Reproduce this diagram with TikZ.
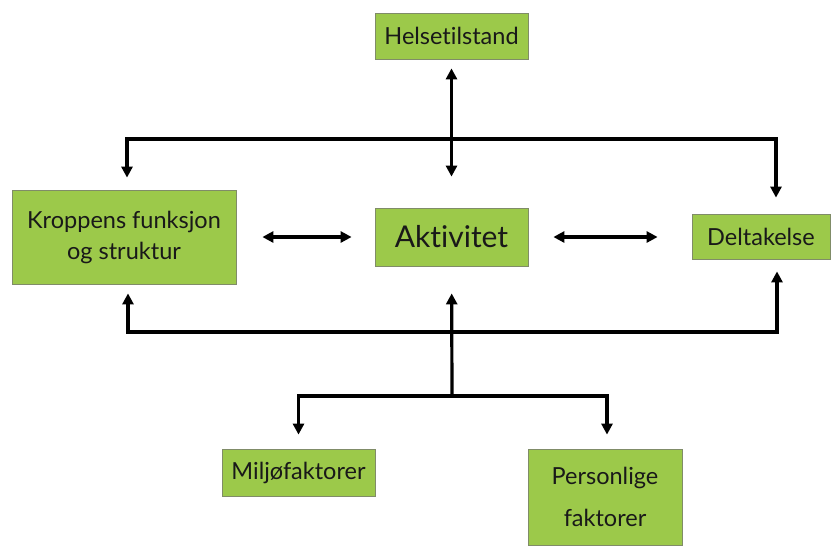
\documentclass[tikz,border=0pt]{standalone}
\usepackage{fontspec}
\setmainfont{Lato}[Ligatures=NoCommon]
\usepackage{xcolor}
\usetikzlibrary{arrows.meta}

\definecolor{boxgreen}{RGB}{156,201,74}
\definecolor{boxline}{RGB}{128,140,104}

\begin{document}
\begin{tikzpicture}[
			x=1pt, y=-1pt,
			every node/.style={fill=boxgreen, draw=boxline, line width=0.8pt, inner sep=0pt, text=black!90},
			process/.style={rectangle, align=center, font=\fontsize{23.5}{31}\selectfont},
			arrow/.style={draw, black, line width=3.2pt, -{Triangle[length=11pt,width=11pt]}},
			biarrow/.style={draw, black, line width=3.2pt, {Triangle[length=11pt,width=11pt]}-{Triangle[length=11pt,width=11pt]}}
			]
			\useasboundingbox (0,0) rectangle (833,547);
			
			% boksar
			\node (helse) [process, minimum width=153pt, minimum height=46pt] at (451.5,36) {Helsetilstand};
			\node (kropp) [process, minimum width=224pt, minimum height=94pt] at (124,237) {Kroppens funksjon\\og struktur};
			\node (aktiv) [process, minimum width=153pt, minimum height=58pt, font=\fontsize{30}{36}\selectfont] at (451.5,237) {Aktivitet};
			\node (delta) [process, minimum width=138pt, minimum height=45pt] at (761,236.5) {Deltakelse};
			\node (miljo) [process, minimum width=153pt, minimum height=47pt] at (298.5,472.5) {Miljøfaktorer};
			\node (person) [process, minimum width=154pt, minimum height=96pt, font=\fontsize{23.5}{42}\selectfont] at (605,497) {Personlige\\faktorer};
			
			\coordinate (top) at (452,139);
			\coordinate (bot) at (452,332);
			\coordinate (hub) at (452,396);
			
			% piler
			\draw [biarrow, shorten <=9pt, shorten >=31pt] (helse) -- (aktiv);
			\draw [arrow, shorten >=12pt] (top) -| ([xshift=3pt]kropp.north);
			\draw [arrow, shorten >=16pt] (top) -| ([xshift=15pt]delta.north);
			\draw [biarrow, shorten <=26pt, shorten >=23pt] (kropp.east |- aktiv) -- (aktiv.west);
			\draw [biarrow, shorten <=25pt, shorten >=34pt] (aktiv.east) -- (delta.west |- aktiv);
			\draw [arrow, shorten >=9pt] (bot) -| ([xshift=4pt]kropp.south);
			\draw [arrow, shorten >=12pt] (bot) -| ([xshift=16pt]delta.south);
			\draw [arrow, shorten >=27pt] (hub) -- (aktiv);
			\draw [arrow, shorten >=14pt] (hub) -| (miljo);
			\draw [arrow, shorten >=14pt] (hub) -| ([xshift=2pt]person.north);
			
		\end{tikzpicture}
\end{document}
